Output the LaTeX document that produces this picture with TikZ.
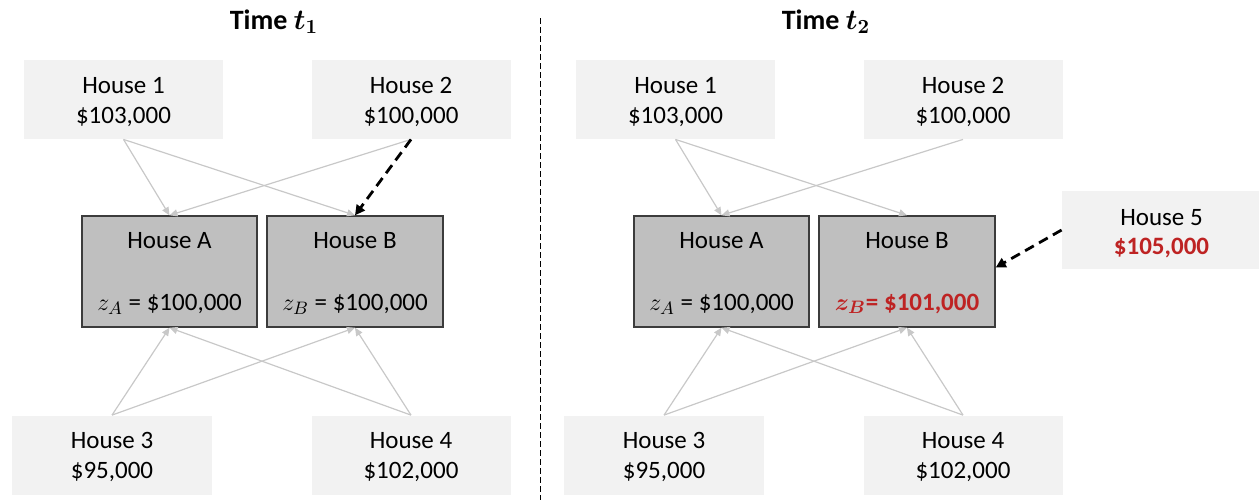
\documentclass[tikz,border=0pt]{standalone}
\usepackage{amsmath}
\usepackage{fontspec}
\setmainfont{Carlito}
\usetikzlibrary{arrows.meta}
\definecolor{lightbox}{RGB}{242,242,242}
\definecolor{midbox}{RGB}{191,191,191}
\definecolor{boxline}{RGB}{60,60,60}
\definecolor{arrowgray}{RGB}{200,200,200}
\definecolor{redtxt}{RGB}{190,35,35}
\tikzset{
  outerbox/.style={fill=lightbox, draw=none, minimum width=99.5pt, minimum height=39.5pt, inner sep=0pt},
  innerbox/.style={fill=midbox, draw=boxline, line width=0.7pt, minimum width=87.5pt, minimum height=55.5pt, inner sep=0pt},
  txt/.style={anchor=base, inner sep=0pt, font=\fontsize{12.5}{15}\selectfont},
  ttl/.style={anchor=base, inner sep=0pt, font=\fontsize{14}{17}\selectfont\bfseries},
  grayarrow/.style={draw=arrowgray, line width=0.6pt, -{Triangle[length=4pt,width=3.5pt]}},
  dasharrow/.style={draw=black, line width=1.4pt, dash pattern=on 5pt off 3pt, -{Triangle[length=5pt,width=5pt]}},
  divider/.style={draw=black, line width=0.5pt, dash pattern=on 3pt off 1.5pt}
}
\begin{document}
\begin{tikzpicture}[x=0.5pt,y=-0.5pt]
\useasboundingbox (0,0) rectangle (1259,500);
% divider
\coordinate (dtop) at (540,18);
\coordinate (dbot) at (540,500);
\draw[divider] (dtop) -- (dbot);
% titles
\node[ttl] (title1) at (274,29) {Time $\boldsymbol{t_1}$};
\node[ttl] (title2) at (826,29) {Time $\boldsymbol{t_2}$};

% ---------- left panel ----------
\node[outerbox] (Lh1) at (123.5,99.5) {};
\node[txt] (Lh1a) at (123.5,93) {House 1};
\node[txt] (Lh1b) at (123.5,123) {\$103,000};
\node[outerbox] (Lh2) at (411,99.5) {};
\node[txt] (Lh2a) at (411,93) {House 2};
\node[txt] (Lh2b) at (411,123) {\$100,000};
\node[outerbox, minimum width=100pt] (Lh3) at (112,455) {};
\node[txt] (Lh3a) at (112,448) {House 3};
\node[txt] (Lh3b) at (112,478) {\$95,000};
\node[outerbox] (Lh4) at (411,455) {};
\node[txt] (Lh4a) at (411,448) {House 4};
\node[txt] (Lh4b) at (411,478) {\$102,000};
\node[innerbox] (LA) at (169.5,271.5) {};
\node[txt] (LAa) at (169.5,248) {House A};
\node[txt] (LAb) at (169.5,310) {$z_A$ = \$100,000};
\node[innerbox, minimum width=88pt] (LB) at (355,271.5) {};
\node[txt] (LBa) at (355,248) {House B};
\node[txt] (LBb) at (355,310) {$z_B$ = \$100,000};
\draw[grayarrow] (Lh1.south) -- (LA.north);
\draw[grayarrow] (Lh1.south) -- (LB.north);
\draw[grayarrow] (Lh2.south) -- (LA.north);
\draw[grayarrow] (Lh3.north) -- (LA.south);
\draw[grayarrow] (Lh3.north) -- (LB.south);
\draw[grayarrow] (Lh4.north) -- (LA.south);
\draw[grayarrow] (Lh4.north) -- (LB.south);
\draw[dasharrow] (Lh2.south) -- (LB.north);

% ---------- right panel ----------
\node[outerbox] (Rh1) at (675.5,99.5) {};
\node[txt] (Rh1a) at (675.5,93) {House 1};
\node[txt] (Rh1b) at (675.5,123) {\$103,000};
\node[outerbox] (Rh2) at (963,99.5) {};
\node[txt] (Rh2a) at (963,93) {House 2};
\node[txt] (Rh2b) at (963,123) {\$100,000};
\node[outerbox, minimum width=100pt] (Rh3) at (664,455) {};
\node[txt] (Rh3a) at (664,448) {House 3};
\node[txt] (Rh3b) at (664,478) {\$95,000};
\node[outerbox] (Rh4) at (963,455) {};
\node[txt] (Rh4a) at (963,448) {House 4};
\node[txt] (Rh4b) at (963,478) {\$102,000};
\node[outerbox, minimum height=39pt] (Rh5) at (1161.5,230) {};
\node[txt] (Rh5a) at (1161.5,225) {House 5};
\node[txt, text=redtxt, font=\fontsize{12.5}{15}\selectfont\bfseries] (Rh5b) at (1161.5,254) {\$105,000};
\node[innerbox] (RA) at (721.5,271.5) {};
\node[txt] (RAa) at (721.5,248) {House A};
\node[txt] (RAb) at (721.5,310) {$z_A$ = \$100,000};
\node[innerbox, minimum width=88pt] (RB) at (907,271.5) {};
\node[txt] (RBa) at (907,248) {House B};
\node[txt, text=redtxt, font=\fontsize{12.5}{15}\selectfont\bfseries] (RBb) at (907,310) {$\boldsymbol{z_B}$= \$101,000};
\draw[grayarrow] (Rh1.south) -- (RA.north);
\draw[grayarrow] (Rh1.south) -- (RB.north);
\draw[grayarrow] (Rh2.south) -- (RA.north);
\draw[grayarrow] (Rh3.north) -- (RA.south);
\draw[grayarrow] (Rh3.north) -- (RB.south);
\draw[grayarrow] (Rh4.north) -- (RA.south);
\draw[grayarrow] (Rh4.north) -- (RB.south);
\draw[dasharrow] (Rh5.west) -- ([yshift=2pt]RB.east);
\end{tikzpicture}
\end{document}
